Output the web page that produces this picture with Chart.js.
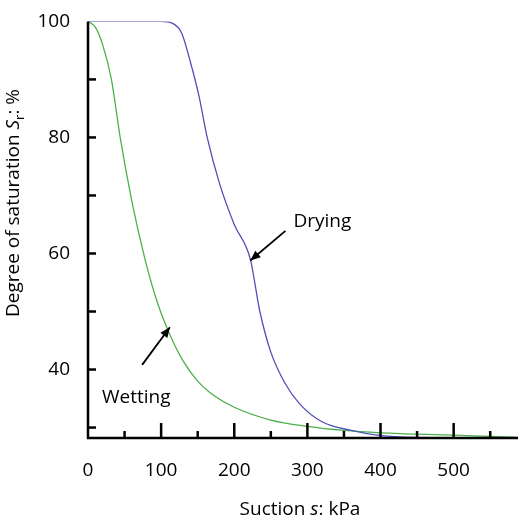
<!DOCTYPE html><html><head><script src="https://cdn.jsdelivr.net/npm/chart.js@4/dist/chart.umd.min.js"></script>
<style>body{margin:0;background:#fff}#w{width:520px;height:524px}</style></head><body><div id="w"><canvas id="c"></canvas></div>
<script>
const dryS=[0,100,115,128,140,152,163,180,200,222,235,250,270,290,320,360,400,450,588];
const dryV=[100,100,99.7,98,93,87,80,72,65,59,50,43,37.5,34,31,29.5,28.6,28.3,28.2];
const wetS=[0,10,20,32,44,60,78,95,112,130,150,167,200,250,300,350,400,500,588];
const wetV=[100,99,96,90,80,69,59,51.5,46,41.5,38,36,33.5,31.3,30.2,29.5,29.1,28.7,28.3];
const yTickLabels=[40,60,80,100];
const xTickLabels=[0,100,200,300,400,500];
const F='"Open Sans", sans-serif';
function arrow(ctx,x1,y1,x2,y2){ctx.beginPath();ctx.moveTo(x1,y1);ctx.lineTo(x2,y2);ctx.stroke();
 const a=Math.atan2(y2-y1,x2-x1),L=11,w=0.4;ctx.beginPath();ctx.moveTo(x2,y2);
 ctx.lineTo(x2-L*Math.cos(a-w),y2-L*Math.sin(a-w));ctx.lineTo(x2-L*Math.cos(a+w),y2-L*Math.sin(a+w));ctx.closePath();ctx.fill();}
const deco={id:'deco',afterDraw(ch){const ctx=ch.ctx,x=ch.scales.x,y=ch.scales.y,a=ch.chartArea;ctx.save();
 ctx.strokeStyle='#000';ctx.fillStyle='#000';ctx.lineWidth=2.5;
 ctx.beginPath();ctx.moveTo(a.left,a.top);ctx.lineTo(a.left,a.bottom);ctx.lineTo(a.right,a.bottom);ctx.stroke();
 for(let v=50;v<=550;v+=50){const px=x.getPixelForValue(v),h=v%100?7:15;ctx.beginPath();ctx.moveTo(px,a.bottom);ctx.lineTo(px,a.bottom-h);ctx.stroke();}
 for(let v=30;v<=90;v+=10){const py=y.getPixelForValue(v);ctx.beginPath();ctx.moveTo(a.left,py);ctx.lineTo(a.left+8,py);ctx.stroke();}
 ctx.lineWidth=1.8;
 arrow(ctx,x.getPixelForValue(270),y.getPixelForValue(63.9),x.getPixelForValue(222),y.getPixelForValue(58.8));
 arrow(ctx,x.getPixelForValue(74),y.getPixelForValue(40.8),x.getPixelForValue(112),y.getPixelForValue(47.3));
 ctx.font='19px '+F;ctx.textBaseline='middle';ctx.textAlign='left';
 ctx.fillText('Drying',x.getPixelForValue(281),y.getPixelForValue(65.5));
 ctx.fillText('Wetting',102,398);
 let t1='Suction ',t2='s',t3=': kPa';ctx.font='19px '+F;
 let w1=ctx.measureText(t1).width;ctx.font='italic 19px '+F;let w2=ctx.measureText(t2).width;ctx.font='19px '+F;let w3=ctx.measureText(t3).width;
 let sx=300-(w1+w2+w3)/2;const ty=510;ctx.fillText(t1,sx,ty);ctx.font='italic 19px '+F;ctx.fillText(t2,sx+w1,ty);ctx.font='19px '+F;ctx.fillText(t3,sx+w1+w2,ty);
 ctx.translate(14,203);ctx.rotate(-Math.PI/2);
 const p=[['Degree of saturation ','19px'],['S','italic 19px'],['r','13px',6],[': %','19px']];
 let tw=0;p.forEach(q=>{ctx.font=q[1]+' '+F;tw+=ctx.measureText(q[0]).width;});let cx=-tw/2;
 p.forEach(q=>{ctx.font=q[1]+' '+F;ctx.fillText(q[0],cx,q[2]||0);cx+=ctx.measureText(q[0]).width;});
 ctx.restore();}};
new Chart(document.getElementById('c'),{type:'line',
 data:{datasets:[
  {data:dryS.map((s,i)=>({x:s,y:dryV[i]})),borderColor:'#5050b8',borderWidth:1.3,pointRadius:0,tension:0.4,cubicInterpolationMode:'monotone'},
  {data:wetS.map((s,i)=>({x:s,y:wetV[i]})),borderColor:'#4cb04c',borderWidth:1.3,pointRadius:0,tension:0.4,cubicInterpolationMode:'monotone'}]},
 options:{animation:false,responsive:true,maintainAspectRatio:false,layout:{padding:{top:2,right:2}},
  plugins:{legend:{display:false},tooltip:{enabled:false}},
  scales:{
   x:{type:'linear',min:0,max:588,grid:{display:false},border:{display:false},
    afterBuildTicks:s=>{s.ticks=xTickLabels.map(v=>({value:v}));},
    afterFit:s=>{s.height=86;},
    ticks:{font:{size:19,family:F},color:'#000',padding:13,maxRotation:0}},
   y:{type:'linear',min:28.2,max:100,grid:{display:false},border:{display:false},
    afterBuildTicks:s=>{s.ticks=yTickLabels.map(v=>({value:v}));},
    afterFit:s=>{s.width=88;},
    ticks:{font:{size:19,family:F},color:'#000',padding:10}}}},
 plugins:[deco]});
</script></body></html>
